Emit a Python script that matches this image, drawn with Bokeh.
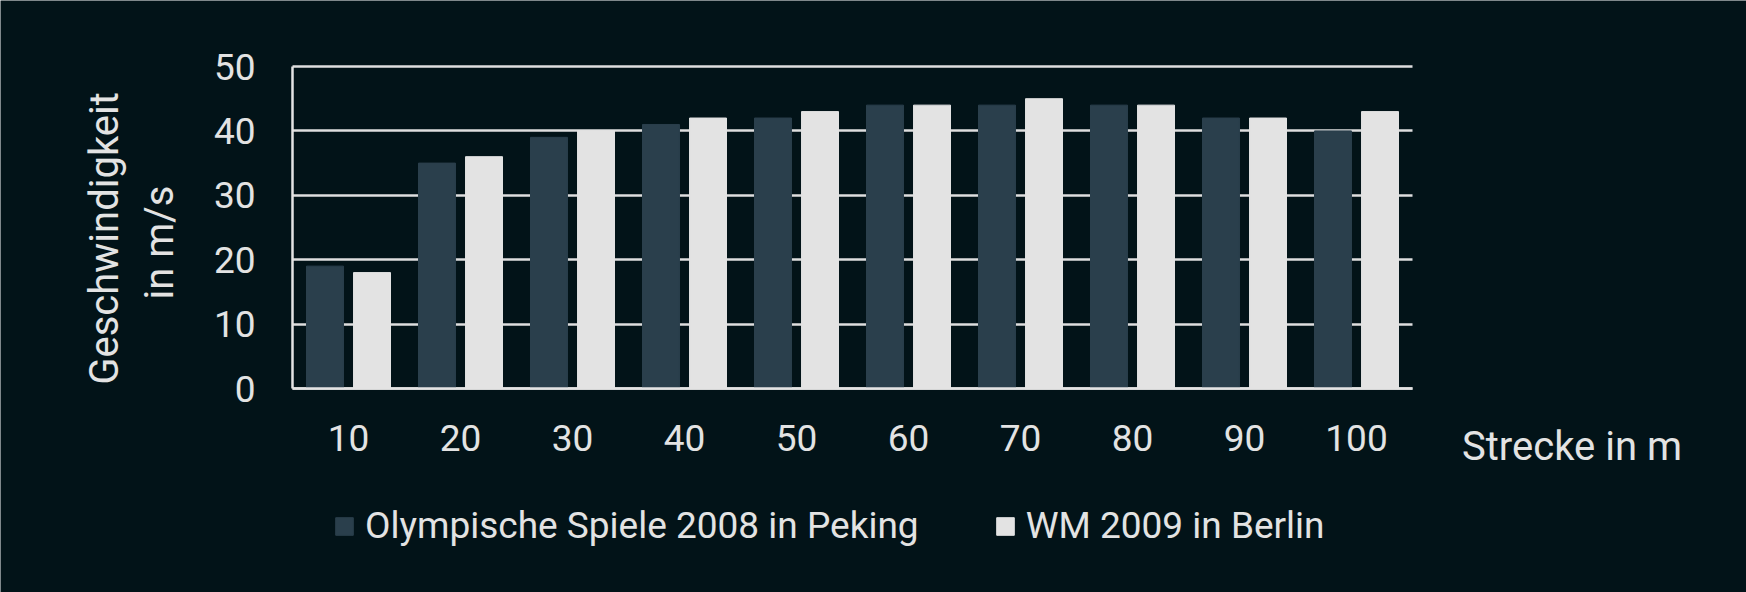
import math
from bokeh.plotting import figure
from bokeh.models import Label, Legend, LegendItem, FixedTicker, Range1d
from bokeh.transform import dodge
from bokeh.embed import file_html
from bokeh.resources import INLINE

# data
strecke = ["10", "20", "30", "40", "50", "60", "70", "80", "90", "100"]
peking_2008 = [19, 35, 39, 41, 42, 44, 44, 44, 42, 40]
berlin_2009 = [18, 36, 40, 42, 43, 44, 45, 44, 42, 43]
y_ticks = [0, 10, 20, 30, 40, 50]
x_title = "Strecke in m"
y_title = ["Geschwindigkeit", "in m/s"]
series = ["Olympische Spiele 2008 in Peking", "WM 2009 in Berlin"]

BG = "#021318"
DARK = "#2a3f4c"
LIGHT = "#e3e3e3"
TEXT = "#e3e3e3"
FONT = "Roboto"

W, H = 1746, 592
# plot area: x 0..10 spans px 292..1412, y 0..50 spans px 388..66
X0, XS = 292, 112.0
Y0, YS = 388, 6.44

n = len(strecke)
centers = [i + 0.5 for i in range(n)]

p = figure(x_range=Range1d(-X0 / XS, (W - X0) / XS),
           y_range=Range1d(-(H - Y0) / YS, Y0 / YS),
           width=W, height=H, output_backend="svg", toolbar_location=None,
           min_border=0)
p.background_fill_color = BG
p.border_fill_color = BG
p.outline_line_color = None

src = {"x": centers, "a": peking_2008, "b": berlin_2009}
r1 = p.vbar(x=dodge("x", -0.21), top="a", width=0.33, source=src, color=DARK)
r2 = p.vbar(x=dodge("x", 0.21), top="b", width=0.33, source=src, color=LIGHT)

# grid
p.xgrid.grid_line_color = None
p.ygrid.ticker = FixedTicker(ticks=y_ticks)
p.ygrid.grid_line_color = "#dedede"
p.ygrid.grid_line_width = 2.5
p.ygrid.level = "underlay"
p.ygrid.cross_bounds = (0, n)

# axes sit at x=0 / y=0 inside the canvas
p.xaxis.fixed_location = 0
p.yaxis.fixed_location = 0
p.xaxis.bounds = (0, n)
p.yaxis.bounds = (0, 50)
p.yaxis.ticker = FixedTicker(ticks=y_ticks)
p.xaxis.ticker = FixedTicker(ticks=centers)
p.xaxis.major_label_overrides = {c: s for c, s in zip(centers, strecke)}

for ax in (p.xaxis[0], p.yaxis[0]):
    ax.axis_line_color = "#e3e3e3"
    ax.axis_line_width = 2.5
    ax.major_tick_line_color = None
    ax.minor_tick_line_color = None
    ax.major_tick_out = 0
    ax.major_tick_in = 0
    ax.major_label_text_color = TEXT
    ax.major_label_text_font = FONT
    ax.major_label_text_font_size = "37px"

p.xaxis.major_label_standoff = 36
p.yaxis.major_label_standoff = 37

# axis titles
p.add_layout(Label(x=(104 - X0) / XS, y=(Y0 - 238) / YS, text=y_title[0], angle=math.pi / 2,
                   text_align="center", text_baseline="alphabetic",
                   text_color=TEXT, text_font=FONT, text_font_size="40px"))
p.add_layout(Label(x=(159 - X0) / XS, y=(Y0 - 242) / YS, text=y_title[1], angle=math.pi / 2,
                   text_align="center", text_baseline="alphabetic",
                   text_color=TEXT, text_font=FONT, text_font_size="40px"))
p.add_layout(Label(x=(1461.5 - X0) / XS, y=(Y0 - 446) / YS, text=x_title,
                   text_align="left", text_baseline="alphabetic",
                   text_color=TEXT, text_font=FONT, text_font_size="40px"))

legend = Legend(items=[LegendItem(label=series[0], renderers=[r1]),
                       LegendItem(label=series[1], renderers=[r2])],
                orientation="horizontal", location=(333, 45),
                background_fill_alpha=0, border_line_color=None,
                padding=0, margin=0, spacing=75, label_standoff=10,
                glyph_width=22, glyph_height=22,
                label_text_color=TEXT, label_text_font=FONT,
                label_text_font_size="37px")
p.add_layout(legend)

html = file_html(p, INLINE)
html = html.replace("<body>", '<body style="background:%s">' % BG, 1)
open("out.html", "w").write(html)
